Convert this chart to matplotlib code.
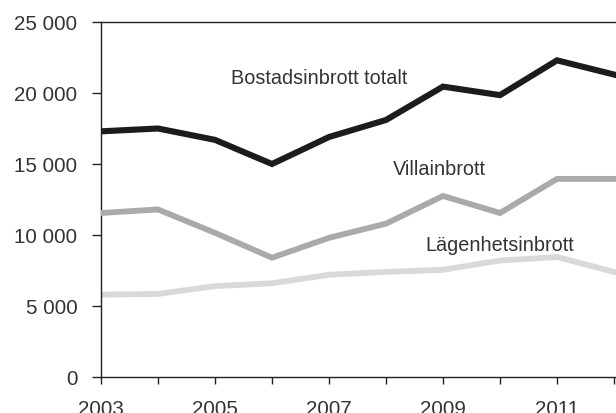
import matplotlib
matplotlib.use("Agg")
import matplotlib.pyplot as plt
from matplotlib.ticker import FuncFormatter

years = [2003, 2004, 2005, 2006, 2007, 2008, 2009, 2010, 2011, 2012]
bostad = [17300, 17500, 16700, 15000, 16900, 18100, 20450, 19850, 22300, 21300]
villa = [11550, 11800, 10150, 8400, 9800, 10800, 12750, 11550, 13950, 13950]
lagenhet = [5800, 5850, 6400, 6600, 7200, 7400, 7550, 8200, 8450, 7400]
xticks = [2003, 2004, 2005, 2006, 2007, 2008, 2009, 2010, 2011, 2012]
xticklabels = ["2003", "", "2005", "", "2007", "", "2009", "", "2011", ""]
yticks = [0, 5000, 10000, 15000, 20000, 25000]

plt.rcParams['font.family'] = ['Liberation Sans', 'DejaVu Sans']

W, H = 616, 414
fig = plt.figure(figsize=(W / 100, H / 100), dpi=100)
px = 57.0  # pixels per year
left, bottom, top = 101, 36, 391
ax = fig.add_axes([left / W, bottom / H, 10 * px / W, (top - bottom) / H])

ax.plot(years, lagenhet, color="#d9d9d9", lw=4.2, solid_joinstyle="miter", zorder=2)
ax.plot(years, villa, color="#aaaaaa", lw=4.2, solid_joinstyle="miter", zorder=3)
ax.plot(years, bostad, color="#1c1c1c", lw=4.4, solid_joinstyle="miter", zorder=4)

ax.set_xlim(2003, 2013)
ax.set_ylim(0, 25000)
ax.set_xticks(xticks)
ax.set_xticklabels(xticklabels)
ax.set_yticks(yticks)
ax.yaxis.set_major_formatter(FuncFormatter(lambda v, p: f"{int(v):,}".replace(",", " ")))

for s in ["left", "bottom", "top", "right"]:
    ax.spines[s].set_linewidth(1.0)
    ax.spines[s].set_color("#222222")

ax.tick_params(axis="y", length=6.5, width=1.0, color="#222222", labelsize=14.8,
               labelcolor="#333333", pad=10.5)
ax.tick_params(axis="x", length=5, width=1.0, color="#222222", labelsize=14.8,
               labelcolor="#333333", pad=11)

tk = dict(fontsize=14.3, color="#333333", ha="center", va="center")
ax.text(2006.83, 21100, "Bostadsinbrott totalt", **tk)
ax.text(2008.93, 14680, "Villainbrott", **tk)
ax.text(2010.0, 9300, "Lägenhetsinbrott", **tk)

fig.savefig("out.png", dpi=100)
